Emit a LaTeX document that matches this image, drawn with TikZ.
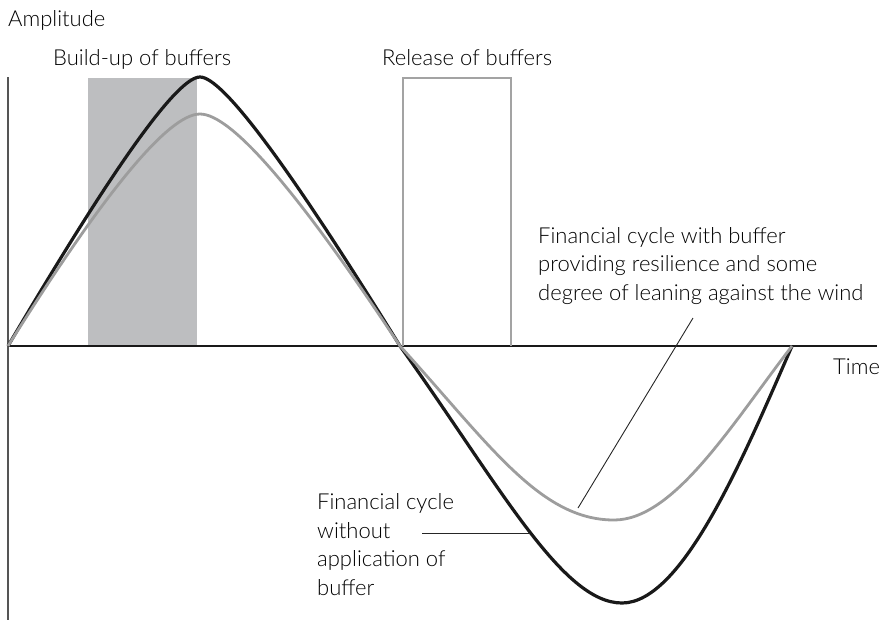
\documentclass[tikz,border=0pt]{standalone}
\usepackage{fontspec}
\setmainfont{Lato Light}
\definecolor{bandgray}{HTML}{BDBEC0}
\definecolor{gcurve}{HTML}{9D9D9D}
\definecolor{gbox}{HTML}{A3A3A3}
\definecolor{vaxis}{HTML}{555555}
\begin{document}
\begin{tikzpicture}[x=1pt,y=-1pt,
  lbl/.style={inner sep=0pt, anchor=base west, font=\fontsize{22}{28.5}\selectfont, align=left, text=black},
  blackcurve/.style={line width=3.2pt, black!90},
  graycurve/.style={line width=2.8pt, gcurve},
  leader/.style={line width=0.9pt, black!85}]
\useasboundingbox (0,0) rectangle (882,622);
% shaded build-up band
\fill[bandgray] (88,78) rectangle (197,346);
% axes
\coordinate (O) at (8,346);
\coordinate (ytop) at (8,77);
\coordinate (ybot) at (8,620);
\coordinate (xend) at (877,346);
\draw[vaxis, line width=1.5pt] (ytop) -- (ybot);
\draw[black!90, line width=1.4pt] (O) -- (xend);
% release box
\draw[gbox, line width=2.4pt] (403,346) -- (403,78) -- (511,78) -- (511,346);
% curves
\draw[blackcurve] (8,346) .. controls (113.3,166.7) and (177.3,77) .. (200,77)
  .. controls (222.7,77) and (289.3,166.7) .. (400,346)
  .. controls (500,486) and (562,603) .. (622,603)
  .. controls (682,603) and (742,461) .. (792,346);
\draw[graycurve] (8,346) .. controls (104.7,191.3) and (168.7,114) .. (200,114)
  .. controls (231.3,114) and (298,191.3) .. (400,346)
  .. controls (490,445) and (540,520) .. (614,520)
  .. controls (674,520) and (732,424) .. (792,346);
% texts
\node[lbl] (amp) at (8,26) {Amplitude};
\node[lbl] (build) at (53,65) {Build-up of buffers};
\node[lbl] (release) at (382,65) {Release of buffers};
\node[lbl] (time) at (833,374) {Time};
\node[lbl] (with) at (538,300) {Financial cycle with buffer\\providing resilience and some\\degree of leaning against the wind};
\node[lbl] (without) at (317,595) {Financial cycle\\without\\application of\\buffer};
% leaders
\coordinate (gl1) at (693,318);
\coordinate (gl2) at (578,508);
\coordinate (bl1) at (422,533);
\coordinate (bl2) at (530,533);
\draw[leader] (gl1) -- (gl2);
\draw[leader] (bl1) -- (bl2);
\end{tikzpicture}
\end{document}
